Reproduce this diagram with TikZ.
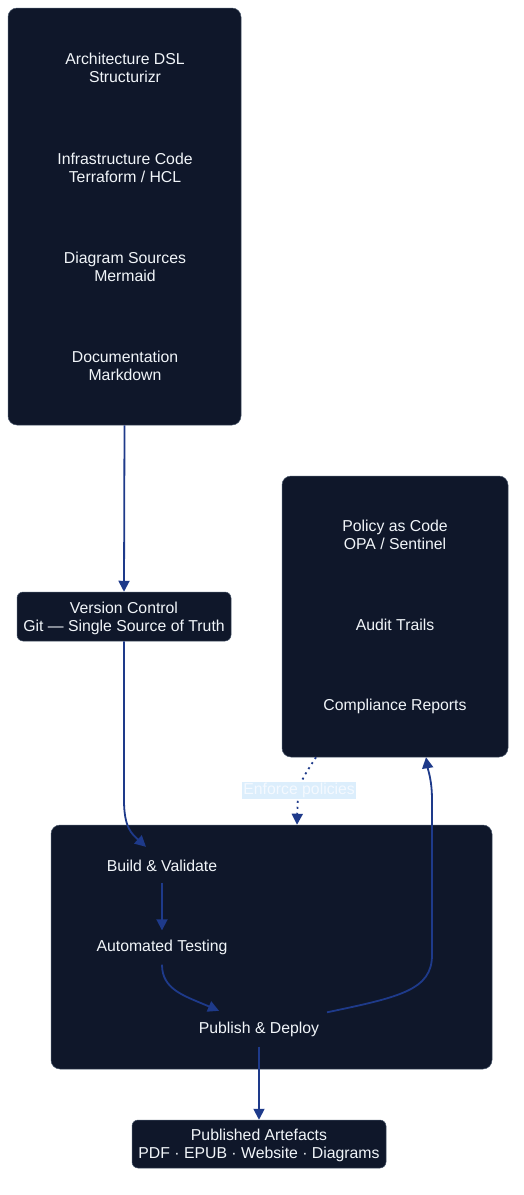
\documentclass[tikz,border=0pt]{standalone}
\usepackage{fontspec}
\setmainfont{Liberation Sans}
\usetikzlibrary{arrows.meta}
\definecolor{navy}{HTML}{0F172A}
\definecolor{edge}{HTML}{1E3A8A}
\definecolor{txt}{HTML}{F1F5F9}
\definecolor{rim}{HTML}{475569}
\definecolor{lblbg}{HTML}{DCEEFC}
\definecolor{lbltxt}{HTML}{F4F9FF}
\tikzset{
  cluster/.style={fill=navy, draw=rim, line width=0.5pt, rounded corners=9pt, inner sep=0pt},
  box/.style={fill=navy, draw=rim, line width=0.5pt, rounded corners=6pt, inner sep=0pt, text=txt, align=center},
  item/.style={text=txt, align=center, inner sep=0pt, minimum height=34pt},
  arr/.style={draw=edge, line width=1.8pt, -{Triangle[length=11pt,width=11pt]}},
  dotarr/.style={arr, dash pattern=on 2pt off 4pt},
  lbl/.style={fill=lblbg, text=lbltxt, inner sep=1pt}
}
\begin{document}
\begin{tikzpicture}[x=1pt,y=-1pt,font=\fontsize{15.8}{18}\selectfont]
\useasboundingbox (0,0) rectangle (524,1195);
% clusters
\node[cluster, minimum width=233pt, minimum height=417pt] (src) at (124.5,216.5) {};
\node[cluster, minimum width=226pt, minimum height=281pt] (gov) at (395,616.5) {};
\node[cluster, minimum width=441pt, minimum height=244pt] (pipe) at (271.5,947) {};
% source items
\node[item] (dsl) at (125,67.5) {Architecture DSL\\Structurizr};
\node[item] (iac) at (125,167.5) {Infrastructure Code\\Terraform / HCL};
\node[item] (dia) at (125,266.5) {Diagram Sources\\Mermaid};
\node[item] (doc) at (125,365.5) {Documentation\\Markdown};
% governance items
\node[item] (pac) at (395,534.5) {Policy as Code\\OPA / Sentinel};
\node[item] (aud) at (395,624.5) {Audit Trails};
\node[item] (comp) at (395,706.5) {Compliance Reports};
% pipeline items
\node[item] (build) at (162,865.5) {Build \& Validate};
\node[item] (test) at (162,947.5) {Automated Testing};
\node[item] (pub) at (259,1029.5) {Publish \& Deploy};
% standalone boxes
\node[box, minimum width=214pt, minimum height=49pt] (vc) at (124,616.5) {};
\node[text=txt, align=center, inner sep=0pt] (vct) at ([yshift=-1.5pt]vc.center) {Version Control\\Git — Single Source of Truth};
\node[box, minimum width=254pt, minimum height=48pt] (art) at (259,1144) {};
\node[text=txt, align=center, inner sep=0pt] (artt) at ([yshift=-1.5pt]art.center) {Published Artefacts\\PDF · EPUB · Website · Diagrams};
% edges
\draw[arr] (src.south) -- (vc.north);
\draw[arr] (vc.south) -- (124,800) .. controls (124,828) and (132,834) .. ([xshift=-16pt,yshift=1.5pt]build.north);
\draw[arr] (build.south) -- (test.north);
\draw[arr] (test.south) .. controls (162,990) and (185,996) .. ([xshift=-40pt,yshift=1.5pt]pub.north);
\draw[arr] (pub.south) -- (art.north);
\draw[arr] ([xshift=68pt]pub.north) .. controls (400,997) and (432,990) .. (432,955) -- (432,800) .. controls (432,780) and (428,770) .. ([xshift=31pt]gov.south);
\draw[dotarr] ([xshift=-79pt]gov.south) .. controls (298,785) .. ([xshift=25.5pt]pipe.north) node[lbl, pos=0.58] (enf) {Enforce policies};
\end{tikzpicture}
\end{document}
